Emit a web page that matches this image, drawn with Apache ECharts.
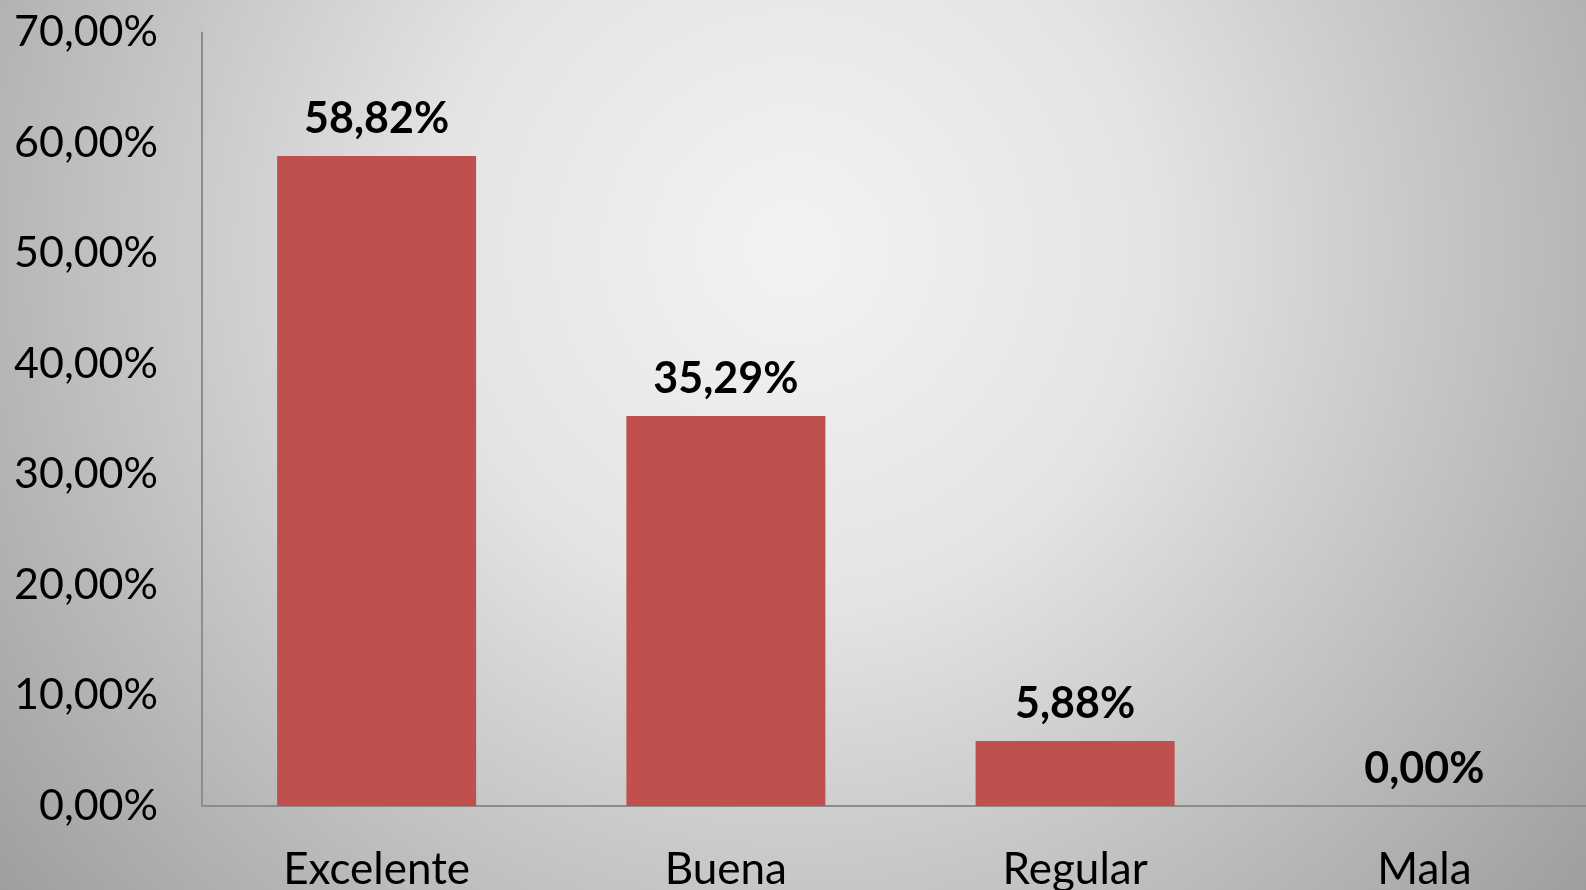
<!DOCTYPE html>
<html><head><meta charset="utf-8">
<script src="https://cdn.jsdelivr.net/npm/echarts@6/dist/echarts.min.js"></script>
<style>html,body{margin:0;padding:0;overflow:hidden;}#c{width:1586px;height:890px;}</style>
</head><body><div id="c"></div>
<script>
const categories = ['Excelente', 'Buena', 'Regular', 'Mala'];
const values = [58.82, 35.29, 5.88, 0.00];
const yTicks = [0, 10, 20, 30, 40, 50, 60, 70];

const fmt = v => v.toFixed(2).replace('.', ',') + '%';
const chart = echarts.init(document.getElementById('c'));
chart.setOption({
  backgroundColor: new echarts.graphic.RadialGradient(0.5, 0.28, 1.15, [
    {offset: 0, color: '#f3f3f3'},
    {offset: 0.35, color: '#e4e4e4'},
    {offset: 1, color: '#9e9e9e'}
  ]),
  grid: {left: 202, width: 1397, top: 32.5, height: 773.5, containLabel: false, outerBoundsMode: 'none'},
  xAxis: {
    type: 'category', data: categories,
    axisLine: {lineStyle: {color: '#8c8c8c', width: 2}},
    axisTick: {show: false},
    axisLabel: {color: '#000', fontFamily: 'Lato', fontSize: 44, margin: 42}
  },
  yAxis: {
    type: 'value', min: yTicks[0], max: yTicks[yTicks.length - 1], interval: 10,
    axisLine: {show: true, lineStyle: {color: '#8c8c8c', width: 2}},
    axisTick: {show: false},
    splitLine: {show: false},
    axisLabel: {color: '#000', fontFamily: 'Lato', fontSize: 43, margin: 44, formatter: v => fmt(v)}
  },
  series: [{
    type: 'bar', data: values, barWidth: 199,
    itemStyle: {color: '#c0504d'},
    label: {show: true, position: 'top', distance: 15, color: '#000', fontFamily: 'Lato', fontWeight: 'bold', fontSize: 43, formatter: p => fmt(p.value)}
  }]
});
</script></body></html>
